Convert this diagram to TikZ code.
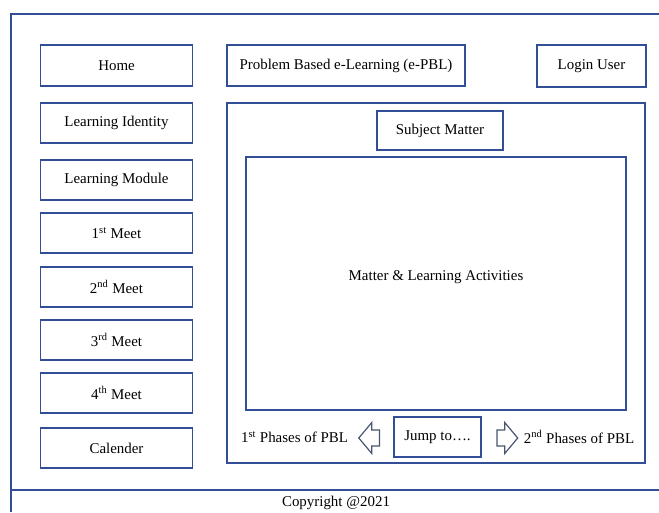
\documentclass[tikz,border=0pt]{standalone}
\usepackage{fontspec}
\setmainfont{Liberation Serif}
\usepackage{tikz}
\usetikzlibrary{shapes.arrows}
\definecolor{boxblue}{RGB}{50,78,150}
\definecolor{arrowgray}{RGB}{72,86,112}
\tikzstyle{frame} = [draw=boxblue, line width=1pt]
\tikzstyle{menu} = [rectangle, 
minimum width=114pt, 
minimum height=30pt, 
text centered, 
draw=boxblue, 
line width=1pt, 
fill=white]
\tikzstyle{panel} = [rectangle, 
draw=boxblue, 
line width=1pt, 
text centered]
\tikzstyle{phase} = [single arrow, 
draw=arrowgray, 
line width=0.9pt, 
fill=white, 
inner xsep=0pt, 
inner ysep=5.6pt, 
minimum height=15.5pt, 
single arrow head extend=5.6pt, 
single arrow tip angle=100]

\begin{document}
\begin{tikzpicture}[x=0.75pt, y=-0.75pt, font=\fontsize{11.2}{13.4}\selectfont]
    \useasboundingbox (0,0) rectangle (659,512);
    % page frame and footer line
    \draw [frame] (659,14) -- (11,14) -- (11,512);
    \draw [frame] (11,490) -- (659,490);

    % menu on the left
    \node (home) [menu, minimum height=30.75pt] at (116.5,65.5) {Home};
    \node (identity) [menu] at (116.5,123) {Learning Identity};
    \node (module) [menu] at (116.5,180) {Learning Module};
    \node (meetA) [menu] at (116.5,233) {1\textsuperscript{st} Meet};
    \node (meetB) [menu] at (116.5,287) {2\textsuperscript{nd} Meet};
    \node (meetC) [menu] at (116.5,340) {3\textsuperscript{rd} Meet};
    \node (meetD) [menu] at (116.5,393) {4\textsuperscript{th} Meet};
    \node (calender) [menu] at (116.5,448) {Calender};

    % header
    \node (title) [panel, minimum width=178.5pt, minimum height=30.75pt] at (346,65.5) {Problem Based e-Learning (e-PBL)};
    \node (login) [panel, minimum width=81.75pt, minimum height=31.5pt] at (591.5,66) {Login User};

    % content area
    \node (content) [panel, minimum width=313.5pt, minimum height=270pt] at (436,283) {};
    \node (subject) [panel, minimum width=94.5pt, minimum height=29.25pt] at (440,130.5) {Subject Matter};
    \node (matter) [panel, minimum width=285pt, minimum height=189.75pt] at (436,283.5) {};
    \node (activities) at (436,277) {Matter \& Learning Activities};

    % navigation between phases
    \node (jump) [panel, minimum width=65.25pt, minimum height=30pt] at (437.5,437) {Jump to\dots.};
    \node (back) [phase, shape border rotate=180] at (372.5,438) {};
    \node (next) [phase] at (504,438) {};
    \node (phaseA) at (294.5,437) {1\textsuperscript{st} Phases of PBL};
    \node (phaseB) at (579,437) {2\textsuperscript{nd} Phases of PBL};

    \node (copyright) at (336,503) {Copyright @2021};
  \end{tikzpicture}
\end{document}
